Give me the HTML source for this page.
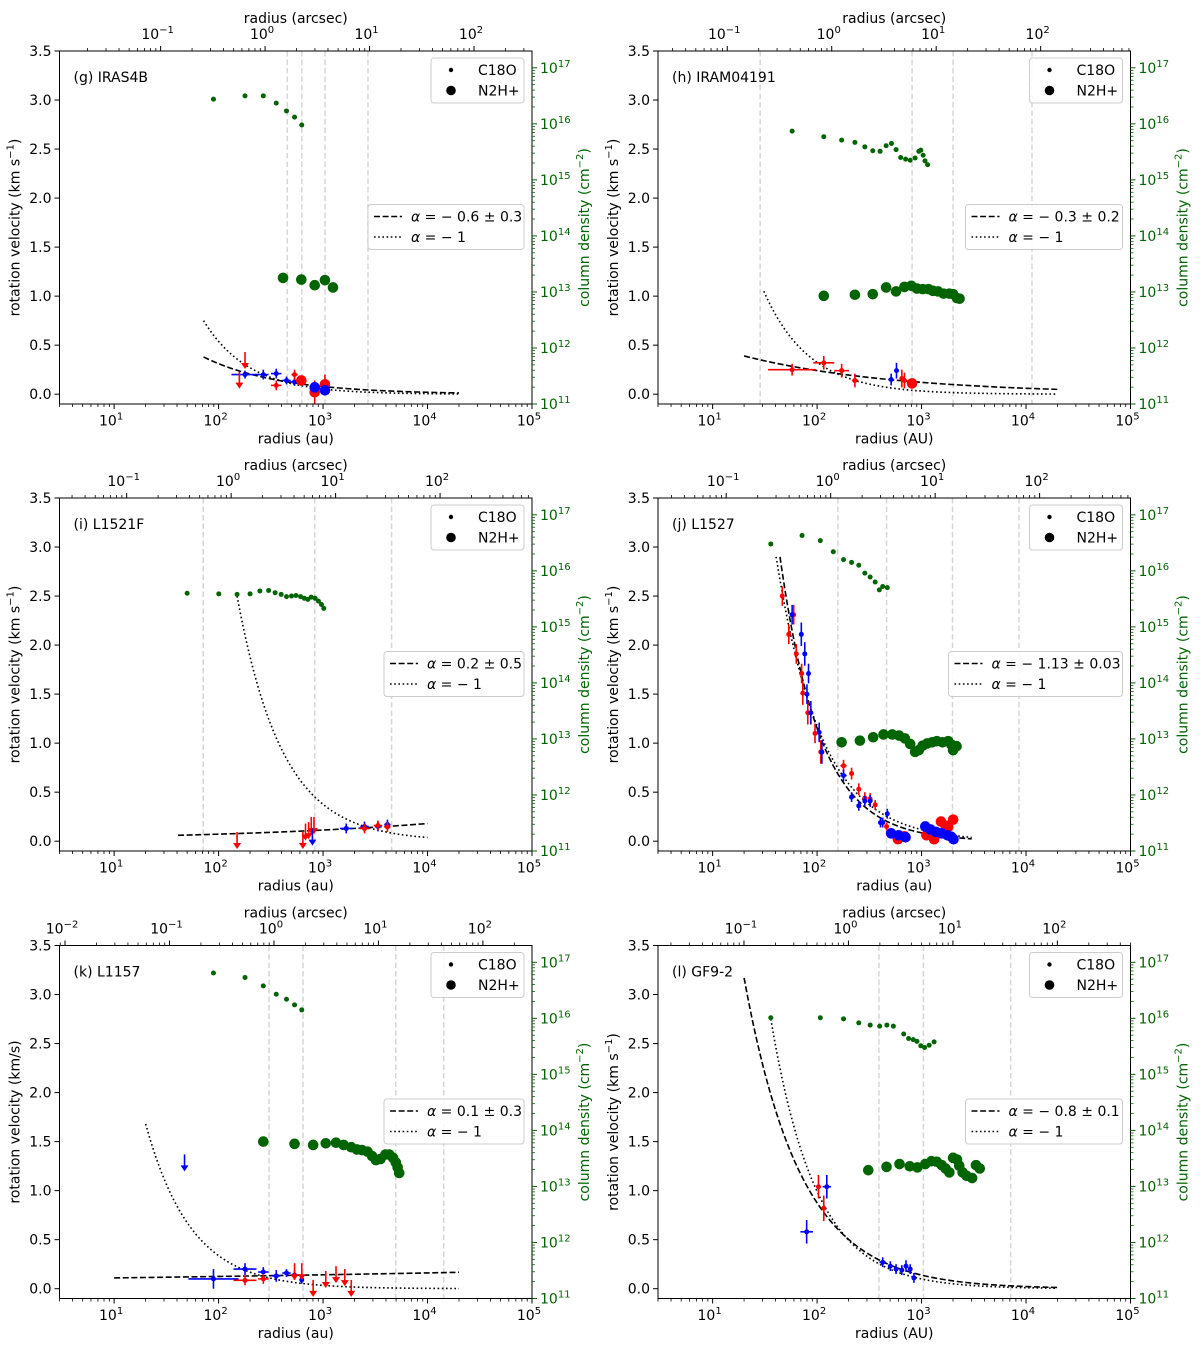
<!DOCTYPE html>
<html><head><meta charset="utf-8">
<style>
html,body{margin:0;padding:0;background:#fff;}
svg{display:block;font-family:"DejaVu Sans","Liberation Sans",sans-serif;}
</style></head>
<body>
<svg id="fig" xmlns="http://www.w3.org/2000/svg" width="1200" height="1346" viewBox="0 0 1200 1346"></svg>
<script>
// ---------- data (log10 radius in au, velocities km/s, log10 column density) ----------
// (g) IRAS4B
const gC18OlogR=[1.951,2.253,2.428,2.552,2.650,2.727,2.796];
const gC18OlogN=[16.44,16.50,16.50,16.37,16.23,16.12,15.98];
const gN2HlogR=[2.617,2.792,2.920,3.018,3.095];
const gN2HlogN=[13.25,13.22,13.12,13.21,13.08];
const gVelLogR=[2.253,2.428,2.552,2.650,2.727,2.552,2.727,2.792,2.920,3.018,2.920,3.018];
const gVel=[0.20,0.20,0.21,0.14,0.125,0.09,0.20,0.14,0.02,0.10,0.07,0.04];
const gVelCol=['b','b','b','b','b','r','r','r','r','r','b','b'];
const gVelBig=[0,0,0,0,0,0,0,1,1,1,1,1];
const gVelYerr=[0.04,0.05,0.05,0.04,0.04,0.05,0.05,0.04,0.12,0.1,0.05,0.05];
const gVelXerr=[0.13,0.05,0.05,0.04,0.04,0.05,0.03,0,0,0,0,0];
const gUlLogR=[2.199,2.253];
const gUlV=[0.23,0.43];
const gUlCol=['r','r'];
const gFitDash=[1.856,4.301,0.38,-0.6];
const gFitDot=[1.856,4.301,0.75,-1];
const gVlines=[2.658,2.797,3.019,3.43];
// (h) IRAM04191
const hC18OlogR=[1.761,2.064,2.235,2.362,2.457,2.533,2.603,2.661,2.712,2.756,2.800,2.847,2.891,2.938,2.974,2.993,3.015,3.033,3.058];
const hC18OlogN=[15.87,15.77,15.71,15.67,15.59,15.52,15.51,15.61,15.65,15.54,15.40,15.37,15.35,15.39,15.51,15.53,15.44,15.34,15.27];
const hN2HlogR=[2.064,2.362,2.533,2.661,2.756,2.836,2.902,2.956,3.011,3.066,3.109,3.157,3.211,3.266,3.302,3.339,3.364];
const hN2HlogN=[12.93,12.95,12.96,13.08,13.01,13.09,13.11,13.06,13.05,13.05,13.02,13.01,12.97,12.97,12.96,12.89,12.88];
const hVelLogR=[1.761,2.064,2.235,2.362,2.811,2.836,2.909,2.709,2.760];
const hVel=[0.25,0.32,0.24,0.14,0.16,0.14,0.11,0.15,0.24];
const hVelCol=['r','r','r','r','r','r','r','b','b'];
const hVelBig=[0,0,0,0,0,0,1,0,0];
const hVelYerr=[0.06,0.07,0.07,0.07,0.09,0.08,0.04,0.06,0.08];
const hVelXerr=[0.23,0.1,0.07,0.03,0.02,0.02,0,0.01,0.01];
const hUlLogR=[];
const hUlV=[];
const hUlCol=[];
const hFitDash=[1.301,4.301,0.39,-0.3];
const hFitDot=[1.49,4.301,1.05,-1];
const hVlines=[1.455,2.909,3.302,4.057];
// (i) L1521F
const iC18OlogR=[1.699,2.002,2.177,2.301,2.395,2.479,2.541,2.599,2.650,2.698,2.741,2.785,2.821,2.854,2.887,2.924,2.956,2.985,3.007];
const iC18OlogN=[15.60,15.59,15.58,15.59,15.64,15.65,15.61,15.58,15.54,15.55,15.56,15.54,15.51,15.49,15.53,15.51,15.46,15.40,15.33];
const iN2HlogR=[];
const iN2HlogN=[];
const iVelLogR=[3.222,3.397,3.525,3.616,3.397,3.525,3.616];
const iVel=[0.13,0.15,0.15,0.17,0.13,0.16,0.145];
const iVelCol=['b','b','b','b','r','r','r'];
const iVelBig=[0,0,0,0,0,0,0];
const iVelYerr=[0.05,0.05,0.05,0.05,0.05,0.05,0.05];
const iVelXerr=[0.06,0.04,0.03,0.03,0.05,0.04,0.03];
const iUlLogR=[2.177,2.807,2.832,2.862,2.887,2.913,2.898];
const iUlV=[0.094,0.094,0.18,0.195,0.246,0.246,0.128];
const iUlCol=['r','r','r','r','r','r','b'];
const iFitDash=[1.612,4.0,0.06,0.2];
const iFitDot=[2.177,4.0,2.5,-1];
const iVlines=[1.853,2.92,3.656];
// (j) L1527
const jC18OlogR=[1.557,1.856,2.031,2.155,2.253,2.330,2.399,2.457,2.508,2.556,2.596,2.628,2.672];
const jC18OlogN=[16.48,16.63,16.54,16.34,16.20,16.15,16.10,15.96,15.89,15.80,15.66,15.72,15.70];
const jN2HlogR=[2.235,2.410,2.537,2.636,2.719,2.785,2.840,2.891,2.938,2.974,3.011,3.055,3.102,3.146,3.200,3.255,3.284,3.302,3.335];
const jN2HlogN=[12.94,12.97,13.03,13.08,13.08,13.06,13.01,12.91,12.77,12.80,12.88,12.92,12.94,12.96,12.94,12.96,12.90,12.80,12.87];
const jVelLogR=[1.667,1.729,1.776,1.801,1.852,1.863,1.911,1.980,2.035,2.253,2.330,2.399,2.457,2.508,2.556,2.665,
 1.761,1.849,1.882,1.918,1.903,1.940,2.020,2.046,2.253,2.330,2.399,2.457,2.508,2.607,2.628,2.672,
 2.774,2.836,3.047,3.120,3.186,3.229,3.255,3.302,3.157,
 2.709,2.781,2.847,3.036,3.084,3.138,3.193,3.248,3.284,3.306];
const jVel=[2.50,2.11,2.31,1.91,1.71,1.51,1.31,1.10,0.91,0.77,0.69,0.53,0.44,0.43,0.37,0.15,
 2.31,2.11,1.91,1.71,1.50,1.31,1.11,0.91,0.67,0.45,0.36,0.41,0.41,0.19,0.19,0.28,
 0.02,0.05,0.06,0.02,0.20,0.16,0.145,0.22,0.08,
 0.08,0.06,0.04,0.15,0.12,0.095,0.08,0.06,0.045,0.02];
const jVelCol=['r','r','r','r','r','r','r','r','r','r','r','r','r','r','r','r',
 'b','b','b','b','b','b','b','b','b','b','b','b','b','b','b','b',
 'r','r','r','r','r','r','r','r','r',
 'b','b','b','b','b','b','b','b','b','b'];
const jVelBig=[0,0,0,0,0,0,0,0,0,0,0,0,0,0,0,0, 0,0,0,0,0,0,0,0,0,0,0,0,0,0,0,0, 1,1,1,1,1,1,1,1,1, 1,1,1,1,1,1,1,1,1,1];
const jVelYerr=[0.1,0.1,0.1,0.1,0.1,0.12,0.12,0.1,0.12,0.06,0.06,0.06,0.06,0.06,0.05,0.04,
 0.1,0.12,0.12,0.1,0.1,0.12,0.1,0.12,0.06,0.05,0.05,0.05,0.06,0.05,0.05,0.05,
 0.03,0.03,0.03,0.03,0.05,0.05,0.05,0.04,0.03, 0.02,0.02,0.02,0.02,0.02,0.02,0.02,0.02,0.02,0.02];
const jVelXerr=[0.02,0.01,0.01,0.01,0.01,0.01,0.01,0.01,0.01,0.03,0.02,0.02,0.02,0.02,0.02,0.01,
 0.02,0.01,0.01,0.01,0.01,0.01,0.01,0.01,0.03,0.02,0.02,0.02,0.02,0.02,0.02,0.01,
 0,0,0,0,0,0,0,0,0, 0,0,0,0,0,0,0,0,0,0];
const jUlLogR=[];
const jUlV=[];
const jUlCol=[];
const jFitDash=[1.645,3.48,2.9,-1.13];
const jFitDot=[1.608,3.48,2.9,-1];
const jVlines=[2.199,2.665,3.296,3.933];
// (k) L1157
const kC18OlogR=[1.951,2.253,2.428,2.552,2.650,2.727,2.796];
const kC18OlogN=[16.81,16.73,16.58,16.43,16.34,16.24,16.15];
const kN2HlogR=[2.428,2.727,2.905,3.026,3.124,3.197,3.270,3.324,3.372,3.426,3.470,3.506,3.550,3.597,3.634,3.670,3.696,3.714,3.729];
const kN2HlogN=[13.80,13.76,13.74,13.77,13.78,13.74,13.70,13.66,13.65,13.62,13.54,13.47,13.49,13.57,13.57,13.51,13.43,13.34,13.24];
const kVelLogR=[1.951,2.253,2.428,2.552,2.650,2.727,2.796,2.253,2.428];
const kVel=[0.10,0.20,0.17,0.13,0.16,0.14,0.09,0.085,0.10];
const kVelCol=['b','b','b','b','b','b','b','r','r'];
const kVelBig=[0,0,0,0,0,0,0,0,0];
const kVelYerr=[0.1,0.06,0.05,0.06,0.04,0.05,0.04,0.05,0.05];
const kVelXerr=[0.24,0.11,0.05,0.04,0.04,0.03,0.02,0.11,0.05];
const kUlLogR=[1.674,2.727,2.796,2.905,3.026,3.124,3.208,3.270];
const kUlV=[1.37,0.26,0.26,0.09,0.18,0.23,0.20,0.09];
const kUlCol=['b','r','r','r','r','r','r','r'];
const kFitDash=[1.0,4.301,0.11,0.055];
const kFitDot=[1.302,4.301,1.68,-1];
const kVlines=[2.483,2.808,3.696,4.155];
// (l) GF9-2
const lC18OlogR=[1.557,2.031,2.253,2.399,2.508,2.599,2.668,2.730,2.829,2.876,2.920,2.956,2.993,3.029,3.073,3.120];
const lC18OlogN=[16.01,16.01,15.99,15.92,15.88,15.86,15.88,15.86,15.72,15.64,15.62,15.59,15.51,15.48,15.52,15.58];
const lN2HlogR=[2.490,2.665,2.789,2.887,2.960,3.036,3.095,3.146,3.193,3.230,3.266,3.302,3.339,3.361,3.393,3.430,3.484,3.521,3.557];
const lN2HlogN=[13.29,13.35,13.40,13.36,13.34,13.40,13.45,13.44,13.38,13.32,13.25,13.51,13.48,13.37,13.25,13.19,13.15,13.38,13.32];
const lVelLogR=[2.013,2.064,1.900,2.093,2.628,2.701,2.756,2.811,2.851,2.891,2.927];
const lVel=[1.04,0.82,0.58,1.04,0.27,0.23,0.20,0.19,0.23,0.20,0.11];
const lVelCol=['r','r','b','b','b','b','b','b','b','b','b'];
const lVelBig=[0,0,0,0,0,0,0,0,0,0,0];
const lVelYerr=[0.12,0.13,0.12,0.12,0.05,0.05,0.05,0.05,0.06,0.05,0.05];
const lVelXerr=[0.01,0.01,0.06,0.04,0.03,0.02,0.02,0.02,0.02,0.02,0.02];
const lUlLogR=[];
const lUlV=[];
const lUlCol=[];
const lFitDash=[1.301,4.301,3.17,-0.8];
const lFitDot=[1.557,4.301,2.75,-1];
const lVlines=[2.592,3.018,3.853];
// panel metadata
const panelLabels=['(g) IRAS4B','(h) IRAM04191','(i) L1521F','(j) L1527','(k) L1157','(l) GF9-2'];
const panelLogDist=[2.445,2.14,2.12,2.13,2.53,2.30];
const panelXUnit=['au','AU','au','au','au','AU'];
const panelAlphaText=['\u2212 0.6 \u00b1 0.3','\u2212 0.3 \u00b1 0.2','0.2 \u00b1 0.5','\u2212 1.13 \u00b1 0.03','0.1 \u00b1 0.3','\u2212 0.8 \u00b1 0.1'];
const velTicks=[0,0.5,1,1.5,2,2.5,3,3.5];
const velTickLabels=['0.0','0.5','1.0','1.5','2.0','2.5','3.0','3.5'];

const panels=[
 {c18R:gC18OlogR,c18N:gC18OlogN,n2R:gN2HlogR,n2N:gN2HlogN,vR:gVelLogR,v:gVel,vc:gVelCol,vb:gVelBig,ye:gVelYerr,xe:gVelXerr,uR:gUlLogR,uV:gUlV,uc:gUlCol,fd:gFitDash,ft:gFitDot,vl:gVlines},
 {c18R:hC18OlogR,c18N:hC18OlogN,n2R:hN2HlogR,n2N:hN2HlogN,vR:hVelLogR,v:hVel,vc:hVelCol,vb:hVelBig,ye:hVelYerr,xe:hVelXerr,uR:hUlLogR,uV:hUlV,uc:hUlCol,fd:hFitDash,ft:hFitDot,vl:hVlines},
 {c18R:iC18OlogR,c18N:iC18OlogN,n2R:iN2HlogR,n2N:iN2HlogN,vR:iVelLogR,v:iVel,vc:iVelCol,vb:iVelBig,ye:iVelYerr,xe:iVelXerr,uR:iUlLogR,uV:iUlV,uc:iUlCol,fd:iFitDash,ft:iFitDot,vl:iVlines},
 {c18R:jC18OlogR,c18N:jC18OlogN,n2R:jN2HlogR,n2N:jN2HlogN,vR:jVelLogR,v:jVel,vc:jVelCol,vb:jVelBig,ye:jVelYerr,xe:jVelXerr,uR:jUlLogR,uV:jUlV,uc:jUlCol,fd:jFitDash,ft:jFitDot,vl:jVlines},
 {c18R:kC18OlogR,c18N:kC18OlogN,n2R:kN2HlogR,n2N:kN2HlogN,vR:kVelLogR,v:kVel,vc:kVelCol,vb:kVelBig,ye:kVelYerr,xe:kVelXerr,uR:kUlLogR,uV:kUlV,uc:kUlCol,fd:kFitDash,ft:kFitDot,vl:kVlines},
 {c18R:lC18OlogR,c18N:lC18OlogN,n2R:lN2HlogR,n2N:lN2HlogN,vR:lVelLogR,v:lVel,vc:lVelCol,vb:lVelBig,ye:lVelYerr,xe:lVelXerr,uR:lUlLogR,uV:lUlV,uc:lUlCol,fd:lFitDash,ft:lFitDot,vl:lVlines}
];
const legend2Width=[156,157,140,174,140,157];

// ---------- drawing ----------
const NS='http://www.w3.org/2000/svg';
const svg=document.getElementById('fig');
const GREEN='#006400', RED='#ff0000', BLUE='#0000ff';
function mk(tag,attrs,parent){const e=document.createElementNS(NS,tag);for(const k in attrs)e.setAttribute(k,attrs[k]);(parent||svg).appendChild(e);return e;}
function sup(t,base,exp){t.textContent='';const a=document.createElementNS(NS,'tspan');a.textContent=base;t.appendChild(a);const b=document.createElementNS(NS,'tspan');b.setAttribute('dy','-6');b.setAttribute('font-size','10');b.textContent=exp;t.appendChild(b);}

const LXMIN=Math.log10(3), LXMAX=5, VMIN=-0.1, VMAX=3.5, NMIN=11, NMAX=17.3;
const W=472.5, H=353;
const colX=[59.5,658], rowY=[51,498,945.5];

panels.forEach((P,pi)=>{
 const x0=colX[pi%2], y0=rowY[Math.floor(pi/2)], x1=x0+W, y1=y0+H;
 const X=lr=>x0+(lr-LXMIN)/(LXMAX-LXMIN)*W;
 const Y=v=>y0+(VMAX-v)/(VMAX-VMIN)*H;
 const YN=ln=>y1-(ln-NMIN)/(NMAX-NMIN)*H;
 const g=mk('g',{});
 
 
 const clipId='clip'+pi;
 const cp=mk('clipPath',{id:clipId},g);mk('rect',{x:x0,y:y0,width:W,height:H},cp);
 const plot=mk('g',{'clip-path':'url(#'+clipId+')'},g);
 P.vl.forEach(lr=>{const l=mk('line',{x1:X(lr),x2:X(lr),y1:y0,y2:y1,stroke:'#d6d6d6','stroke-width':1.5,'stroke-dasharray':'5.5,3'},plot);
  });
 function fit(F,dash,name){let d='';const n=80;for(let i=0;i<=n;i++){const lr=F[0]+(F[1]-F[0])*i/n;const v=F[2]*Math.pow(10,(lr-F[0])*F[3]);d+=(i?'L':'M')+X(lr).toFixed(2)+','+Y(v).toFixed(2);}
  const p=mk('path',{d:d,fill:'none',stroke:'#000','stroke-width':1.6,'stroke-dasharray':dash},plot);
  }
 fit(P.fd,'6,2.6','fit-line-dashed');
 fit(P.ft,'1.6,2.6','fit-line-dotted-alpha-minus-1');
 P.c18R.forEach((lr,i)=>{const c=mk('circle',{cx:X(lr),cy:YN(P.c18N[i]),r:2.5,fill:GREEN},plot);
  });
 P.n2R.forEach((lr,i)=>{const c=mk('circle',{cx:X(lr),cy:YN(P.n2N[i]),r:5.3,fill:GREEN},plot);
  });
 P.vR.forEach((lr,i)=>{const col=P.vc[i]==='r'?RED:BLUE;const cx=X(lr),cy=Y(P.v[i]);
  const eg=mk('g',{},plot);
  
  
  if(P.ye[i]>0)mk('line',{x1:cx,x2:cx,y1:Y(P.v[i]+P.ye[i]),y2:Y(P.v[i]-P.ye[i]),stroke:col,'stroke-width':1.6},eg);
  if(P.xe[i]>0)mk('line',{x1:X(lr-P.xe[i]),x2:X(lr+P.xe[i]),y1:cy,y2:cy,stroke:col,'stroke-width':1.6},eg);
  mk('circle',{cx:cx,cy:cy,r:P.vb[i]?5.3:2.5,fill:col},eg);});
 P.uR.forEach((lr,i)=>{const col=P.uc[i]==='r'?RED:BLUE;const cx=X(lr),ya=Y(P.uV[i]),yb=ya+17;
  const ag=mk('g',{},plot);
  
  mk('line',{x1:cx,x2:cx,y1:ya,y2:yb-4,stroke:col,'stroke-width':1.6},ag);
  mk('path',{d:`M${cx-4},${yb-6}L${cx+4},${yb-6}L${cx},${yb}Z`,fill:col},ag);});
 const fr=mk('rect',{x:x0,y:y0,width:W,height:H,fill:'none',stroke:'#000','stroke-width':1},g);
 
 const bx=mk('g',{},g);
 for(let e=0;e<=5;e++){for(let k=1;k<=9;k++){const lr=e+Math.log10(k);if(lr<LXMIN-1e-6||lr>LXMAX+1e-6)continue;
  const major=k===1;mk('line',{x1:X(lr),x2:X(lr),y1:y1,y2:y1+(major?5:3),stroke:'#000','stroke-width':major?1:0.8},bx);
  if(major){const t=mk('text',{x:X(lr)-3,y:y1+21.5,'font-size':14,'text-anchor':'middle'},bx);sup(t,'10',String(e));}}}
 const xl=mk('text',{x:(x0+x1)/2,y:y1+39.5,'font-size':14,'text-anchor':'middle'},g);
 xl.textContent='radius ('+panelXUnit[pi]+')';
 const tx=mk('g',{},g);
 const D=panelLogDist[pi];
 for(let e=-3;e<=3;e++){for(let k=1;k<=9;k++){const lr=e+Math.log10(k)+D;if(lr<LXMIN||lr>LXMAX)continue;
  const major=k===1;mk('line',{x1:X(lr),x2:X(lr),y1:y0,y2:y0-(major?5:3),stroke:'#000','stroke-width':major?1:0.8},tx);
  if(major){const t=mk('text',{x:X(lr)-3,y:y0-12,'font-size':14,'text-anchor':'middle'},tx);sup(t,'10',e<0?'\u2212'+(-e):String(e));}}}
 const tl=mk('text',{x:(x0+x1)/2,y:y0-28,'font-size':14,'text-anchor':'middle'},g);
 tl.textContent='radius (arcsec)';
 const ly=mk('g',{},g);
 velTicks.forEach((v,i)=>{mk('line',{x1:x0-5,x2:x0,y1:Y(v),y2:Y(v),stroke:'#000','stroke-width':1},ly);
  const t=mk('text',{x:x0-8,y:Y(v)+5,'font-size':14,'text-anchor':'end'},ly);t.textContent=velTickLabels[i];});
 const yl=mk('text',{transform:`translate(${x0-40},${(y0+y1)/2}) rotate(-90)`,'font-size':14,'text-anchor':'middle'},g);
 
 if(pi===4){yl.textContent='rotation velocity (km/s)';}
 else{yl.textContent='rotation velocity (km s';const s=document.createElementNS(NS,'tspan');s.setAttribute('dy','-6');s.setAttribute('font-size','10');s.textContent='\u22121';yl.appendChild(s);
  const s2=document.createElementNS(NS,'tspan');s2.setAttribute('dy','6');s2.textContent=')';yl.appendChild(s2);}
 const ry=mk('g',{},g);
 for(let e=11;e<=17;e++){for(let k=1;k<=9;k++){const ln=e+Math.log10(k);if(ln>NMAX)continue;const major=k===1;
  mk('line',{x1:x1,x2:x1+(major?5:3),y1:YN(ln),y2:YN(ln),stroke:GREEN,'stroke-width':major?1:0.8},ry);
  if(major){const t=mk('text',{x:x1+8,y:YN(ln)+5,'font-size':14,fill:GREEN},ry);sup(t,'10',String(e));}}}
 const rl=mk('text',{transform:`translate(${x1+57},${(y0+y1)/2}) rotate(-90)`,'font-size':14,'text-anchor':'middle',fill:GREEN},g);
 
 rl.textContent='column density (cm';{const s=document.createElementNS(NS,'tspan');s.setAttribute('dy','-6');s.setAttribute('font-size','10');s.textContent='\u22122';rl.appendChild(s);
  const s2=document.createElementNS(NS,'tspan');s2.setAttribute('dy','6');s2.textContent=')';rl.appendChild(s2);}
 const pl=mk('text',{x:x0+14,y:y0+31,'font-size':14},g);pl.textContent=panelLabels[pi];
 
 const lg=mk('g',{},g);
 mk('rect',{x:x1-101,y:y0+7,width:93,height:45,rx:3,fill:'#fff','fill-opacity':0.85,stroke:'#cccccc','stroke-width':1},lg);
 mk('circle',{cx:x1-81,cy:y0+19,r:2.2,fill:'#000'},lg);
 mk('circle',{cx:x1-81,cy:y0+39.5,r:4.8,fill:'#000'},lg);
 const t1=mk('text',{x:x1-54,y:y0+24,'font-size':14},lg);t1.textContent='C18O';
 const t2=mk('text',{x:x1-54,y:y0+44.5,'font-size':14},lg);t2.textContent='N2H+';
 const lw=legend2Width[pi], lx=x1-8-lw, ly0=y0+153.5;
 const l2=mk('g',{},g);
 mk('rect',{x:lx,y:ly0,width:lw,height:45,rx:3,fill:'#fff','fill-opacity':0.85,stroke:'#cccccc','stroke-width':1},l2);
 mk('line',{x1:lx+6,x2:lx+34,y1:ly0+12,y2:ly0+12,stroke:'#000','stroke-width':1.6,'stroke-dasharray':'6,2.6'},l2);
 mk('line',{x1:lx+6,x2:lx+34,y1:ly0+32.5,y2:ly0+32.5,stroke:'#000','stroke-width':1.6,'stroke-dasharray':'1.6,2.6'},l2);
 const a1=mk('text',{x:lx+43,y:ly0+17,'font-size':14},l2);
 a1.innerHTML='<tspan font-style="italic">\u03b1</tspan> = '+panelAlphaText[pi];
 const a2=mk('text',{x:lx+43,y:ly0+37.5,'font-size':14},l2);
 a2.innerHTML='<tspan font-style="italic">\u03b1</tspan> = \u2212 1';
});
</script>
</body></html>
